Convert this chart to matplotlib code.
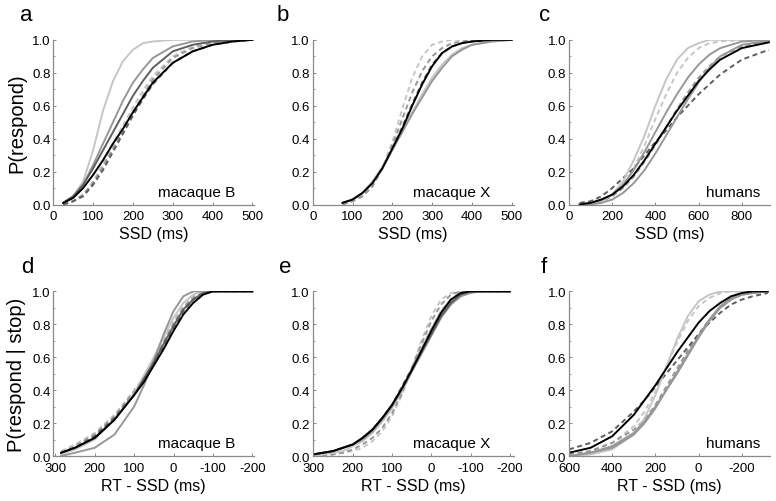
import matplotlib
matplotlib.use("Agg")
import matplotlib.pyplot as plt
from matplotlib.ticker import MultipleLocator

plt.rcParams['font.family'] = ['Liberation Sans', 'DejaVu Sans']
plt.rcParams['axes.unicode_minus'] = False

LIGHT = '#c6c6c6'
MID = '#979797'
DARK = '#5e5e5e'
BLACK = '#000000'

# ---- panel a: macaque B, SSD
a_x = [25, 50, 75, 100, 125, 150, 175, 200, 225, 250, 300, 350, 400, 450, 500]
a_light = [0.01, 0.05, 0.14, 0.33, 0.57, 0.75, 0.87, 0.94, 0.98, 0.99, 1.0, 1.0, 1.0, 1.0, 1.0]
a_mid = [0.01, 0.05, 0.12, 0.24, 0.37, 0.50, 0.63, 0.74, 0.82, 0.89, 0.96, 0.99, 1.0, 1.0, 1.0]
a_dark = [0.01, 0.05, 0.12, 0.22, 0.33, 0.44, 0.55, 0.66, 0.75, 0.83, 0.93, 0.97, 0.99, 1.0, 1.0]
a_black = [0.01, 0.04, 0.10, 0.18, 0.27, 0.37, 0.46, 0.56, 0.65, 0.74, 0.86, 0.93, 0.97, 0.99, 1.0]
a_light_d = [0.0, 0.02, 0.06, 0.14, 0.25, 0.37, 0.48, 0.59, 0.69, 0.78, 0.90, 0.96, 0.99, 1.0, 1.0]
a_mid_d = [0.0, 0.02, 0.06, 0.13, 0.23, 0.34, 0.45, 0.56, 0.66, 0.76, 0.89, 0.95, 0.98, 1.0, 1.0]
a_dark_d = [0.0, 0.02, 0.05, 0.12, 0.21, 0.32, 0.43, 0.54, 0.64, 0.73, 0.86, 0.93, 0.97, 0.99, 1.0]

# ---- panel b: macaque X, SSD
b_x = [75, 100, 125, 150, 175, 200, 225, 250, 275, 300, 325, 350, 375, 400, 450, 500]
b_light = [0.01, 0.03, 0.07, 0.14, 0.23, 0.34, 0.45, 0.56, 0.67, 0.77, 0.85, 0.91, 0.95, 0.97, 0.99, 1.0]
b_mid = [0.01, 0.03, 0.07, 0.13, 0.22, 0.33, 0.44, 0.55, 0.65, 0.75, 0.83, 0.90, 0.94, 0.97, 0.99, 1.0]
b_black = [0.01, 0.03, 0.07, 0.13, 0.22, 0.34, 0.46, 0.60, 0.73, 0.84, 0.92, 0.96, 0.98, 0.99, 1.0, 1.0]
b_light_d = [0.0, 0.02, 0.05, 0.11, 0.22, 0.38, 0.58, 0.77, 0.90, 0.97, 0.99, 1.0, 1.0, 1.0, 1.0, 1.0]
b_mid_d = [0.0, 0.02, 0.05, 0.11, 0.22, 0.36, 0.52, 0.68, 0.81, 0.90, 0.95, 0.98, 0.99, 1.0, 1.0, 1.0]
b_dark_d = [0.01, 0.03, 0.07, 0.13, 0.22, 0.34, 0.47, 0.61, 0.74, 0.85, 0.92, 0.96, 0.98, 0.99, 1.0, 1.0]

# ---- panel c: humans, SSD
c_x = [50, 100, 150, 200, 250, 300, 350, 400, 450, 500, 550, 600, 650, 700, 800, 925]
c_light = [0.0, 0.01, 0.02, 0.06, 0.14, 0.27, 0.42, 0.60, 0.76, 0.88, 0.95, 0.98, 1.0, 1.0, 1.0, 1.0]
c_light_d = [0.0, 0.01, 0.02, 0.05, 0.11, 0.22, 0.36, 0.52, 0.67, 0.80, 0.89, 0.95, 0.98, 0.99, 1.0, 1.0]
c_mid = [0.0, 0.01, 0.03, 0.06, 0.12, 0.21, 0.32, 0.44, 0.56, 0.67, 0.77, 0.85, 0.91, 0.95, 0.99, 1.0]
c_black = [0.0, 0.01, 0.03, 0.06, 0.11, 0.18, 0.27, 0.37, 0.47, 0.57, 0.66, 0.75, 0.82, 0.88, 0.95, 0.985]
c_dark = [0.0, 0.0, 0.01, 0.03, 0.07, 0.13, 0.21, 0.31, 0.42, 0.53, 0.64, 0.74, 0.83, 0.90, 0.97, 0.995]
c_mid_d = [0.0, 0.01, 0.02, 0.05, 0.10, 0.17, 0.26, 0.36, 0.47, 0.58, 0.68, 0.77, 0.84, 0.90, 0.96, 0.99]
c_dark_d = [0.01, 0.02, 0.05, 0.10, 0.16, 0.22, 0.30, 0.38, 0.45, 0.53, 0.60, 0.67, 0.73, 0.79, 0.88, 0.94]

# ---- panel d: macaque B, RT - SSD
d_x = [285, 250, 200, 150, 100, 75, 50, 25, 0, -25, -50, -75, -100, -200]
d_mid = [0.0, 0.02, 0.05, 0.13, 0.30, 0.43, 0.58, 0.74, 0.88, 0.97, 1.0, 1.0, 1.0, 1.0]
d_light = [0.01, 0.04, 0.10, 0.22, 0.38, 0.49, 0.60, 0.72, 0.84, 0.93, 0.98, 1.0, 1.0, 1.0]
d_dark = [0.02, 0.05, 0.11, 0.22, 0.37, 0.47, 0.57, 0.68, 0.79, 0.89, 0.95, 0.99, 1.0, 1.0]
d_black = [0.02, 0.05, 0.11, 0.22, 0.37, 0.45, 0.55, 0.65, 0.76, 0.86, 0.93, 0.98, 1.0, 1.0]
d_light_d = [0.03, 0.07, 0.14, 0.25, 0.40, 0.48, 0.58, 0.70, 0.82, 0.91, 0.97, 0.99, 1.0, 1.0]
d_mid_d = [0.02, 0.06, 0.13, 0.24, 0.39, 0.48, 0.58, 0.69, 0.80, 0.90, 0.96, 0.99, 1.0, 1.0]
d_dark_d = [0.02, 0.05, 0.12, 0.23, 0.38, 0.47, 0.56, 0.67, 0.78, 0.88, 0.95, 0.99, 1.0, 1.0]

# ---- panel e: macaque X, RT - SSD
e_x = [300, 275, 250, 225, 200, 175, 150, 125, 100, 75, 50, 25, 0, -25, -50, -75, -100, -125, -200]
e_light = [0.0, 0.01, 0.02, 0.03, 0.06, 0.09, 0.14, 0.21, 0.29, 0.40, 0.52, 0.65, 0.77, 0.88, 0.95, 0.99, 1.0, 1.0, 1.0]
e_mid = [0.01, 0.02, 0.03, 0.05, 0.07, 0.10, 0.15, 0.22, 0.30, 0.40, 0.51, 0.62, 0.73, 0.84, 0.92, 0.97, 0.99, 1.0, 1.0]
e_dark = [0.01, 0.02, 0.03, 0.05, 0.07, 0.11, 0.16, 0.23, 0.31, 0.41, 0.52, 0.63, 0.74, 0.85, 0.93, 0.98, 1.0, 1.0, 1.0]
e_black = [0.01, 0.02, 0.03, 0.05, 0.07, 0.11, 0.16, 0.23, 0.31, 0.41, 0.52, 0.64, 0.76, 0.87, 0.95, 0.99, 1.0, 1.0, 1.0]
e_light_d = [0.0, 0.0, 0.01, 0.02, 0.03, 0.05, 0.09, 0.15, 0.24, 0.37, 0.53, 0.70, 0.85, 0.95, 0.99, 1.0, 1.0, 1.0, 1.0]
e_mid_d = [0.0, 0.0, 0.01, 0.02, 0.04, 0.07, 0.11, 0.17, 0.26, 0.38, 0.53, 0.68, 0.82, 0.92, 0.98, 1.0, 1.0, 1.0, 1.0]
e_dark_d = [0.01, 0.02, 0.03, 0.05, 0.07, 0.11, 0.16, 0.23, 0.31, 0.42, 0.53, 0.65, 0.77, 0.88, 0.95, 0.99, 1.0, 1.0, 1.0]

# ---- panel f: humans, RT - SSD
f_x = [600, 500, 400, 300, 250, 200, 150, 100, 50, 0, -50, -100, -150, -200, -250, -320]
f_light = [0.0, 0.01, 0.04, 0.13, 0.23, 0.37, 0.54, 0.71, 0.85, 0.94, 0.98, 1.0, 1.0, 1.0, 1.0, 1.0]
f_light_d = [0.01, 0.03, 0.08, 0.18, 0.27, 0.39, 0.54, 0.69, 0.82, 0.91, 0.96, 0.99, 1.0, 1.0, 1.0, 1.0]
f_mid = [0.0, 0.02, 0.05, 0.13, 0.20, 0.29, 0.40, 0.50, 0.61, 0.72, 0.82, 0.90, 0.95, 0.98, 0.99, 1.0]
f_dark = [0.0, 0.02, 0.06, 0.14, 0.21, 0.30, 0.40, 0.51, 0.62, 0.73, 0.83, 0.91, 0.96, 0.98, 0.99, 1.0]
f_black = [0.02, 0.05, 0.12, 0.25, 0.34, 0.43, 0.53, 0.63, 0.72, 0.81, 0.88, 0.93, 0.97, 0.99, 1.0, 1.0]
f_mid_d = [0.01, 0.03, 0.08, 0.16, 0.22, 0.31, 0.42, 0.53, 0.64, 0.74, 0.83, 0.90, 0.95, 0.98, 0.99, 1.0]
f_dark_d = [0.04, 0.08, 0.15, 0.27, 0.34, 0.42, 0.50, 0.58, 0.66, 0.74, 0.81, 0.87, 0.92, 0.95, 0.97, 0.99]

panels = [
    ('a', a_x, [(a_light_d, LIGHT, '--'), (a_mid_d, MID, '--'), (a_dark_d, DARK, '--'),
                (a_light, LIGHT, '-'), (a_mid, MID, '-'), (a_dark, DARK, '-'), (a_black, BLACK, '-')],
     (0, 505), [0, 100, 200, 300, 400, 500], 'SSD (ms)', 'P(respond)', 'macaque B', 0.905, -0.165),
    ('b', b_x, [(b_light_d, LIGHT, '--'), (b_mid_d, MID, '--'), (b_dark_d, DARK, '--'),
                (b_light, LIGHT, '-'), (b_mid, MID, '-'), (b_black, BLACK, '-')],
     (0, 505), [0, 100, 200, 300, 400, 500], 'SSD (ms)', None, 'macaque X', 0.885, -0.18),
    ('c', c_x, [(c_light_d, LIGHT, '--'), (c_mid_d, MID, '--'), (c_dark_d, DARK, '--'),
                (c_light, LIGHT, '-'), (c_mid, MID, '-'), (c_dark, MID, '-'), (c_black, BLACK, '-')],
     (0, 930), [0, 200, 400, 600, 800], 'SSD (ms)', None, 'humans', 0.95, -0.15),
    ('d', d_x, [(d_light_d, LIGHT, '--'), (d_mid_d, MID, '--'), (d_dark_d, DARK, '--'),
                (d_light, LIGHT, '-'), (d_mid, MID, '-'), (d_dark, DARK, '-'), (d_black, BLACK, '-')],
     (305, -205), [300, 200, 100, 0, -100, -200], 'RT - SSD (ms)', 'P(respond | stop)', 'macaque B', 0.905, -0.16),
    ('e', e_x, [(e_light_d, LIGHT, '--'), (e_mid_d, MID, '--'), (e_dark_d, DARK, '--'),
                (e_light, LIGHT, '-'), (e_mid, MID, '-'), (e_dark, DARK, '-'), (e_black, BLACK, '-')],
     (302, -210), [300, 200, 100, 0, -100, -200], 'RT - SSD (ms)', None, 'macaque X', 0.885, -0.17),
    ('f', f_x, [(f_light_d, LIGHT, '--'), (f_mid_d, MID, '--'), (f_dark_d, DARK, '--'),
                (f_light, LIGHT, '-'), (f_mid, MID, '-'), (f_dark, MID, '-'), (f_black, BLACK, '-')],
     (600, -330), [600, 400, 200, 0, -200], 'RT - SSD (ms)', None, 'humans', 0.95, -0.14),
]

fig = plt.figure(figsize=(7.76, 5.02), dpi=100)
lefts = [0.0687, 0.403, 0.7332]
bottoms = [0.5906, 0.0896]
w, h = 0.259, 0.328

for i, (lab, xs, curves, xlim, xt, xlabel, ylabel, name, tx, lx) in enumerate(panels):
    ax = fig.add_axes([lefts[i % 3], bottoms[i // 3], w, h])
    for ys, col, ls in curves:
        ax.plot(xs, ys, color=col, ls=ls, lw=1.4, dashes=(2.6, 1.8) if ls == '--' else (None, None))
    ax.set_xlim(*xlim)
    ax.set_ylim(0, 1.0)
    ax.set_xticks(xt)
    ax.set_yticks([0, 0.2, 0.4, 0.6, 0.8, 1.0])
    ax.set_yticklabels(['0.0', '0.2', '0.4', '0.6', '0.8', '1.0'])
    ax.yaxis.set_minor_locator(MultipleLocator(0.1))
    for s in ['top', 'right']:
        ax.spines[s].set_visible(False)
    for s in ['left', 'bottom']:
        ax.spines[s].set_color('#8a8a8a')
        ax.spines[s].set_linewidth(0.9)
    ax.tick_params(direction='in', length=2.5, width=0.7, color='#8a8a8a', labelsize=9.5)
    ax.tick_params(axis='x', pad=4)
    ax.tick_params(axis='y', pad=2)
    ax.tick_params(which='minor', direction='in', length=1.3, width=0.6, color='#8a8a8a')
    ax.set_xlabel(xlabel, fontsize=11.5, labelpad=3)
    if ylabel:
        ax.set_ylabel(ylabel, fontsize=14.5, labelpad=4)
    ax.text(tx, 0.035, name, transform=ax.transAxes, ha='right', va='bottom', fontsize=11)
    ax.text(lx, 1.12, lab, transform=ax.transAxes, ha='left', va='baseline', fontsize=16)

fig.savefig('out.png', dpi=100)
